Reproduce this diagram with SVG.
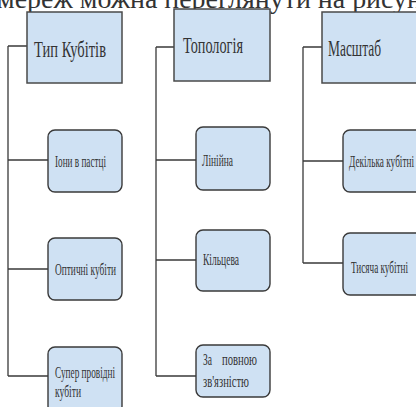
<svg xmlns="http://www.w3.org/2000/svg" width="416" height="407" viewBox="0 0 416 407">
<style>
.hdr{fill:#cfe1f3;stroke:#4a4a4a;stroke-width:1.5}
.box{fill:#cfe1f3;stroke:#3a3a3a;stroke-width:1.4}
.t{font-family:"Liberation Serif","Times New Roman",serif;fill:#333}
.h{font-size:23px}
.c{font-size:16px}
.conn{stroke:#3a3a3a;stroke-width:1.3;fill:none}
</style>
<rect width="416" height="407" fill="#fff"/>
<text class="t" x="-3" y="8" font-size="27" fill="#111" textLength="425" lengthAdjust="spacingAndGlyphs">мереж можна переглянути на рисун</text>
<g id="connectors">
<path class="conn" d="M8 46V376M8 46H27M8 160H48M8 269H48M8 376H48"/>
<path class="conn" d="M156 47V376M156 47H174M156 160H196M156 260H196M156 376H196"/>
<path class="conn" d="M303 47V263M303 47H322M303 161H343M303 263H343"/>
</g>
<g id="n-typ">
<rect class="hdr" x="27" y="12" width="95" height="71"/>
<text class="t h" x="34" y="57" textLength="72" lengthAdjust="spacingAndGlyphs">Тип Кубітів</text>
</g>
<g id="n-topology">
<rect class="hdr" x="174" y="9" width="96" height="72"/>
<text class="t h" x="183" y="53" textLength="60" lengthAdjust="spacingAndGlyphs">Топологія</text>
</g>
<g id="n-scale">
<rect class="hdr" x="322" y="12" width="100" height="71"/>
<text class="t h" x="328" y="56" textLength="53" lengthAdjust="spacingAndGlyphs">Масштаб</text>
</g>
<g id="n-ions">
<rect class="box" x="48" y="130" width="74" height="62" rx="7"/>
<text class="t c" x="55" y="167" textLength="51" lengthAdjust="spacingAndGlyphs">Іони в пастці</text>
</g>
<g id="n-optical">
<rect class="box" x="48" y="238" width="74" height="62" rx="7"/>
<text class="t c" x="55" y="275" textLength="61" lengthAdjust="spacingAndGlyphs">Оптичні кубіти</text>
</g>
<g id="n-super">
<rect class="box" x="48" y="347" width="74" height="66" rx="7"/>
<text class="t c" x="55" y="378" textLength="60" lengthAdjust="spacingAndGlyphs">Супер провідні</text>
<text class="t c" x="55" y="397" textLength="26" lengthAdjust="spacingAndGlyphs">кубіти</text>
</g>
<g id="n-linear">
<rect class="box" x="196" y="127" width="74" height="63" rx="7"/>
<text class="t c" x="202" y="166" textLength="31" lengthAdjust="spacingAndGlyphs">Лінійна</text>
</g>
<g id="n-ring">
<rect class="box" x="196" y="230" width="74" height="61" rx="7"/>
<text class="t c" x="203" y="265" textLength="36" lengthAdjust="spacingAndGlyphs">Кільцева</text>
</g>
<g id="n-full">
<rect class="box" x="196" y="345" width="74" height="52" rx="7"/>
<text class="t c" x="203" y="365" textLength="9" lengthAdjust="spacingAndGlyphs">За</text>
<text class="t c" x="222" y="365" textLength="35" lengthAdjust="spacingAndGlyphs">повною</text>
<text class="t c" x="203" y="387" textLength="46" lengthAdjust="spacingAndGlyphs">зв'язністю</text>
</g>
<g id="n-few">
<rect class="box" x="343" y="130" width="80" height="62" rx="7"/>
<text class="t c" x="349" y="167" textLength="65" lengthAdjust="spacingAndGlyphs">Декілька кубітні</text>
</g>
<g id="n-thousand">
<rect class="box" x="343" y="233" width="80" height="62" rx="7"/>
<text class="t c" x="351" y="273" textLength="57" lengthAdjust="spacingAndGlyphs">Тисяча кубітні</text>
</g>
</svg>
